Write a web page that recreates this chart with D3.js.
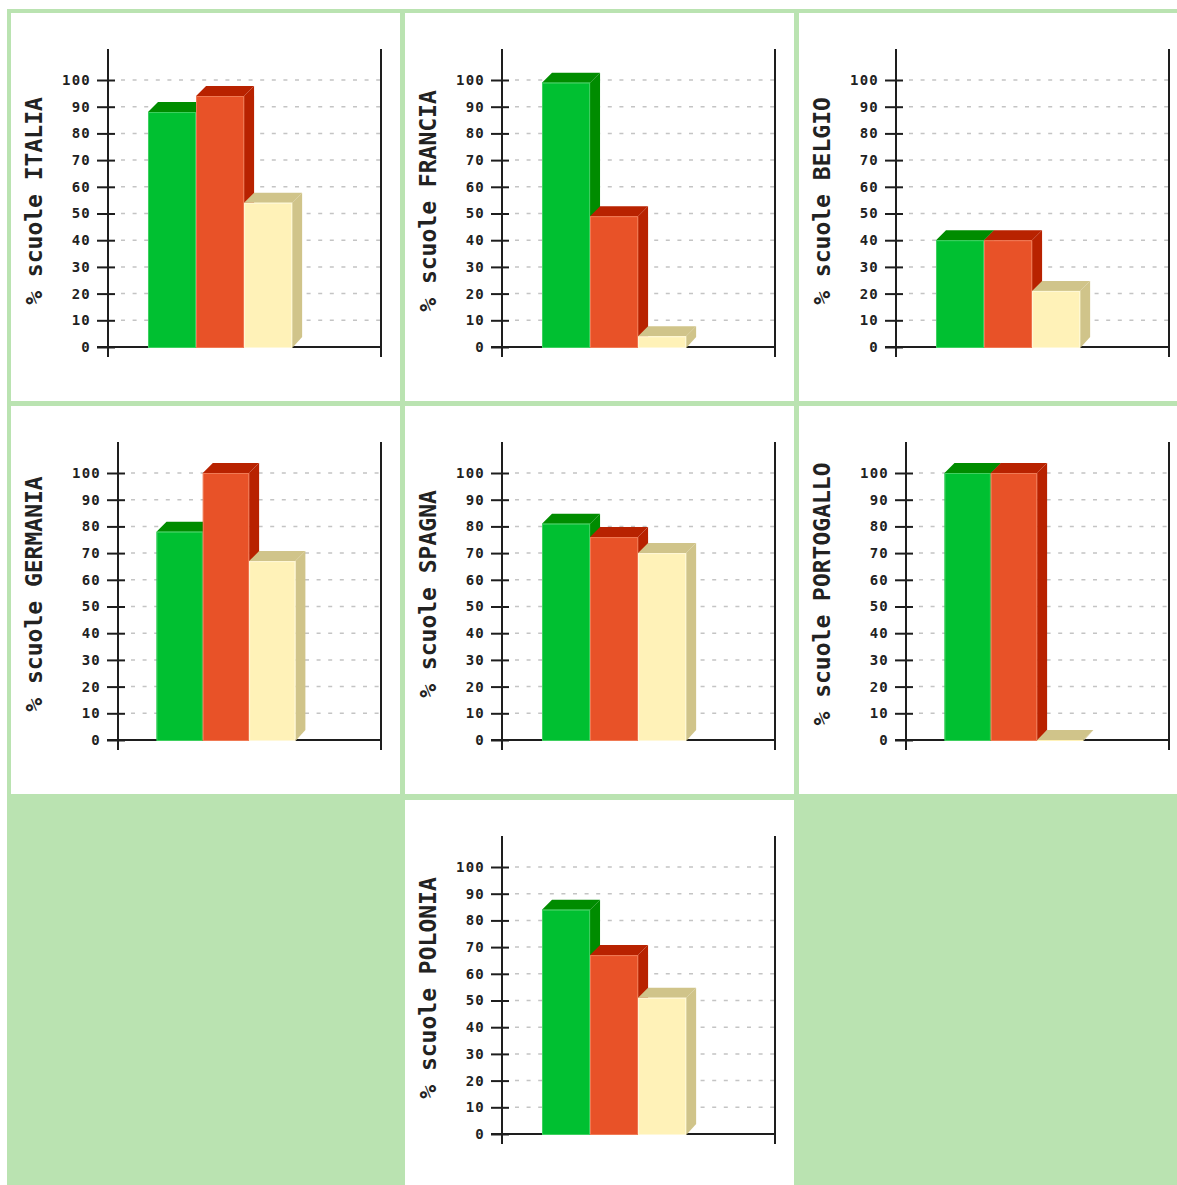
<!DOCTYPE html>
<html><head><meta charset="utf-8">
<script src="https://cdn.jsdelivr.net/npm/d3@7/dist/d3.min.js"></script>
<style>
html,body{margin:0;padding:0;background:#fff;overflow:hidden;}
svg{display:block;}
</style></head><body>
<svg id="chart" width="1177" height="1185"></svg>
<script>
// ---- data ----
const countries = ["ITALIA", "FRANCIA", "BELGIO", "GERMANIA", "SPAGNA", "PORTOGALLO", "POLONIA"];
const seriesKeys = ["s1", "s2", "s3"];
const seriesGreen = [88, 99, 40, 78, 81, 100, 84];
const seriesRed   = [94, 49, 40, 100, 76, 100, 67];
const seriesCream = [54, 4, 21, 67, 70, 0, 51];
const yTickValues = [0, 10, 20, 30, 40, 50, 60, 70, 80, 90, 100];
const titlePrefix = "% scuole ";
// grid slot (row, col) for each country
const slotRow = [0, 0, 0, 1, 1, 1, 2];
const slotCol = [0, 1, 2, 0, 1, 2, 1];

// ---- styles ----
const frontColors = ["#00c031", "#e85228", "#fff2b8"];
const darkColors  = ["#008c00", "#b82200", "#d0c48a"];
const edgeColors  = ["#3fd060", "#f07a55", "#fff8d8"];
const tableGreen = "#bae3b1";
const axisColor = "#1e1e1e";
const textColor = "#222";

const svg = d3.select("#chart");
const W = 1177, H = 1185;
const colX = [11, 405, 799];
const rowY = [13, 406, 800];
const cellW = 389, cellH = 388;

// table background
svg.append("rect").attr("x", 7).attr("y", 9).attr("width", W - 7).attr("height", H - 9).attr("fill", tableGreen);

const seriesData = [seriesGreen, seriesRed, seriesCream];

countries.forEach((country, i) => {
  const cx = colX[slotCol[i]], cy = rowY[slotRow[i]];
  svg.append("rect").attr("x", cx).attr("y", cy).attr("width", cellW).attr("height", cellH).attr("fill", "#fff");
  const g = svg.append("g").attr("transform", `translate(${cx},${cy})`);

  const title = titlePrefix + country;
  const ml = 97 + (title.length > 16 ? 10 : 0);
  const right = 370, top = 36, base = 334, bottomExt = 344;
  const plotW = right - ml;

  const y = d3.scaleLinear().domain([0, 100]).range([base, 67]);
  const bw = 0.176 * plotW;
  const start = ml + 0.1465 * plotW;
  const x = d3.scaleBand().domain(seriesKeys).range([start, start + 3 * bw]).padding(0);

  // grid lines
  g.selectAll("line.grid").data(yTickValues.filter(d => d > 0)).enter().append("line")
    .attr("class", "grid")
    .attr("x1", ml + 13).attr("x2", right)
    .attr("y1", d => y(d)).attr("y2", d => y(d))
    .attr("stroke", "#c4c4c4").attr("stroke-width", 1.5)
    .attr("stroke-dasharray", "4,7.6");

  // y axis using d3.axisLeft
  const yAxis = d3.axisLeft(y).tickValues(yTickValues).tickSize(0).tickPadding(17);
  const ax = g.append("g").attr("transform", `translate(${ml},0)`).call(yAxis);
  ax.select(".domain").remove();
  ax.selectAll(".tick text")
    .attr("fill", textColor)
    .style("font-family", "'DejaVu Sans Mono', monospace")
    .style("font-weight", "bold")
    .style("font-size", "14px")
    .style("letter-spacing", "1.2px");
  ax.selectAll(".tick").append("line")
    .attr("x1", -11).attr("x2", 7).attr("y1", 0).attr("y2", 0)
    .attr("stroke", axisColor).attr("stroke-width", 2);

  // axis frame lines
  g.append("line").attr("x1", ml).attr("x2", ml).attr("y1", top).attr("y2", bottomExt)
    .attr("stroke", axisColor).attr("stroke-width", 2);
  g.append("line").attr("x1", right).attr("x2", right).attr("y1", top).attr("y2", bottomExt)
    .attr("stroke", axisColor).attr("stroke-width", 2);
  g.append("line").attr("x1", ml - 11).attr("x2", right).attr("y1", base).attr("y2", base)
    .attr("stroke", axisColor).attr("stroke-width", 2);

  // 3D bars
  const dx = 10, dy = 10;
  seriesKeys.forEach((k, s) => {
    const v = seriesData[s][i];
    const x0 = x(k), w = x.bandwidth();
    const yT = y(v), y0 = y(0);
    const bar = g.append("g");
    // side face
    bar.append("polygon")
      .attr("points", [[x0 + w, yT], [x0 + w + dx, yT - dy], [x0 + w + dx, y0 - dy], [x0 + w, y0 + 1]].map(p => p.join(",")).join(" "))
      .attr("fill", darkColors[s]);
    // top face
    bar.append("polygon")
      .attr("points", [[x0, yT], [x0 + dx, yT - dy], [x0 + w + dx, yT - dy], [x0 + w, yT]].map(p => p.join(",")).join(" "))
      .attr("fill", darkColors[s]);
    // front face
    bar.append("rect")
      .attr("x", x0).attr("y", yT).attr("width", w).attr("height", y0 - yT + 1)
      .attr("fill", frontColors[s]);
    bar.append("rect")
      .attr("x", x0 + 0.5).attr("y", yT + 0.5).attr("width", w - 1).attr("height", Math.max(0, y0 - yT))
      .attr("fill", "none").attr("stroke", edgeColors[s]).attr("stroke-width", 1);
  });

  // y title
  g.append("text")
    .attr("transform", `translate(23,188) rotate(-90)`)
    .attr("text-anchor", "middle")
    .attr("dominant-baseline", "central")
    .attr("fill", textColor)
    .style("font-family", "'DejaVu Sans Mono', monospace")
    .style("font-weight", "bold")
    .style("font-size", "23px")
    .text(title);
});
</script>
</body></html>
